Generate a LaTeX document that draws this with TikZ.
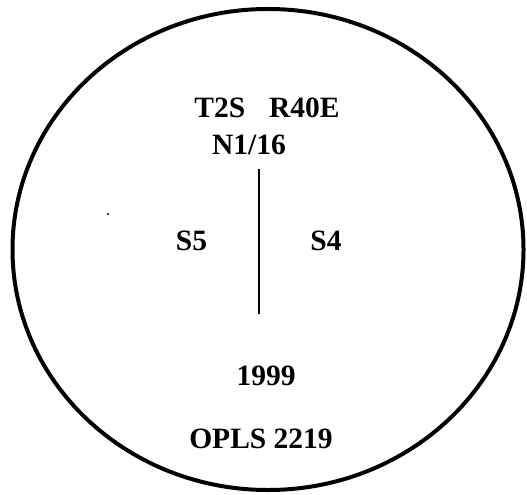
\documentclass[tikz,border=0pt]{standalone}
\usepackage{fontspec}
\setmainfont{Liberation Serif}
\begin{document}
\begin{tikzpicture}[x=1bp,y=-1bp,
  lbl/.style={anchor=base,inner sep=0pt,font=\fontsize{29.5bp}{34bp}\selectfont\bfseries}]
\useasboundingbox (0,0) rectangle (527,495);
\draw[line width=4bp] (268,249.5) ellipse [x radius=255.5, y radius=240.5];
\node[lbl] (t) at (267,118) {T2S\hspace{24bp}R40E};
\node[lbl] (n) at (249,155) {N1/16};
\node[lbl] (s5) at (191.5,250) {S5};
\node[lbl] (s4) at (326,250) {S4};
\node[lbl] (y) at (266,385) {1999};
\node[lbl] (o) at (261,448) {OPLS 2219};
\coordinate (la) at (259,169);
\coordinate (lb) at (259,314);
\draw[line width=1.2bp] (la) -- (lb);
\fill (108,214) circle (1.2bp);
\end{tikzpicture}
\end{document}
